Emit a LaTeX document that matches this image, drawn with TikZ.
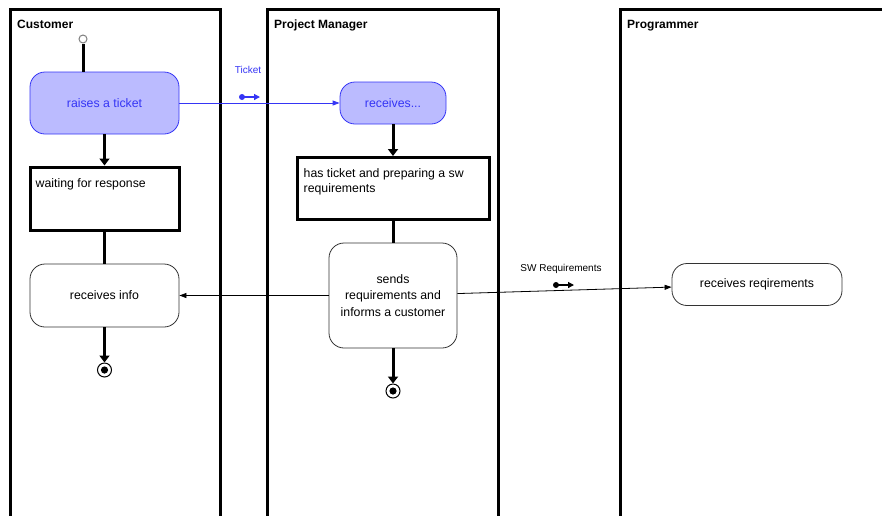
\documentclass[tikz,border=0pt]{standalone}
\usepackage{fontspec}
\setmainfont{Liberation Sans}
\usepackage{tikz}
\usetikzlibrary{arrows.meta, positioning, calc}
\definecolor{actfill}{HTML}{BBBBFF}
\definecolor{actblue}{HTML}{3535F5}
\definecolor{edgegray}{HTML}{333333}

\begin{document}
\begin{tikzpicture}[
    x=1pt, y=-1pt,
    lane/.style={line width=3pt, line cap=rect},
    lanetitle/.style={anchor=base west, inner sep=0pt, font=\fontsize{12}{14}\selectfont\bfseries},
    action/.style={rectangle, draw=edgegray, line width=0.8pt, rounded corners=15pt, align=center, font=\fontsize{12.3}{16.5}\selectfont},
    blueaction/.style={action, draw=actblue, fill=actfill, text=actblue},
    state/.style={rectangle, draw, line width=3pt},
    boxtext/.style={anchor=north west, inner sep=0pt, align=left, font=\fontsize{12.3}{15}\selectfont},
    initial/.style={circle, draw=gray, fill=white, line width=1pt, minimum size=8pt, inner sep=0pt},
    final/.style={circle, draw, line width=1pt, minimum size=14pt, inner sep=0pt,
        path picture={\fill (path picture bounding box.center) circle (3.6pt);}},
    flow/.style={line width=3pt},
    flowarrow/.style={flow, -{Triangle[length=7pt, width=10pt]}},
    msg/.style={line width=0.8pt, -{Triangle[length=7pt, width=5pt]}},
    ticketmsg/.style={msg, draw=actblue},
    objtext/.style={inner sep=0pt, font=\fontsize{10}{12}\selectfont},
    icon/.style={line width=1.3pt, -{Triangle[length=6pt, width=6pt]}}
]
\useasboundingbox (0,0) rectangle (882,515);

\draw[lane] (10,515) |- (220,9) -- (220,515);
\draw[lane] (267,515) |- (498,9) -- (498,515);
\draw[lane] (620,515) |- (882,9);

\node[lanetitle] (customer) at (17,28) {Customer};
\node[lanetitle] (manager) at (274,28) {Project Manager};
\node[lanetitle] (programmer) at (627,28) {Programmer};

\node[initial] (start) at (83,39) {};
\node[blueaction, minimum width=149pt, minimum height=62pt] (raise) at (104.5,103) {raises a ticket};
\node[state, minimum width=149pt, minimum height=63pt] (wait) at (104.5,198.5) {};
\node[boxtext] (waittext) at ([xshift=7pt, yshift=-13pt]wait.north west) {waiting for response};
\node[action, minimum width=149pt, minimum height=63pt] (rinfo) at (104.5,295.5) {receives info};
\node[final] (end1) at (104.5,370) {};

\node[blueaction, minimum width=106pt, minimum height=42pt] (recv) at (393,103) {receives...};
\node[state, minimum width=192pt, minimum height=62pt] (prep) at (393,188.5) {};
\node[boxtext] (preptext) at ([xshift=8pt, yshift=-12pt]prep.north west) {has ticket and preparing a sw\\requirements};
\node[action, minimum width=128pt, minimum height=105pt] (sends) at (393,295.5) {sends\\requirements and\\informs a customer};
\node[final] (end2) at (393,391) {};

\node[action, minimum width=170pt, minimum height=42pt] (rreq) at (757,284.5) {receives reqirements};

\node[objtext, text=actblue] (ticket) at (248,70) {Ticket};
\coordinate (ticketicon) at (242,97);
\fill[actblue] (ticketicon) circle (3pt);
\draw[icon, actblue] (ticketicon) -- ++(18,0);

\node[objtext] (swreq) at (561,269) {SW Requirements};
\coordinate (swicon) at (556,285);
\fill (swicon) circle (3pt);
\draw[icon] (swicon) -- ++(18,0);

\draw[flow] (start) -- (start |- raise.north);
\draw[flowarrow] (raise) -- (wait);
\draw[flow] (wait) -- (rinfo);
\draw[flowarrow] (rinfo) -- (end1);
\draw[ticketmsg] (raise) -- (recv);
\draw[flowarrow] (recv) -- (prep);
\draw[flow] (prep) -- (sends);
\draw[flowarrow] (sends) -- (end2);
\draw[msg] (sends) -- (rinfo);
\draw[msg] (sends) -- (rreq);

\end{tikzpicture}
\end{document}
